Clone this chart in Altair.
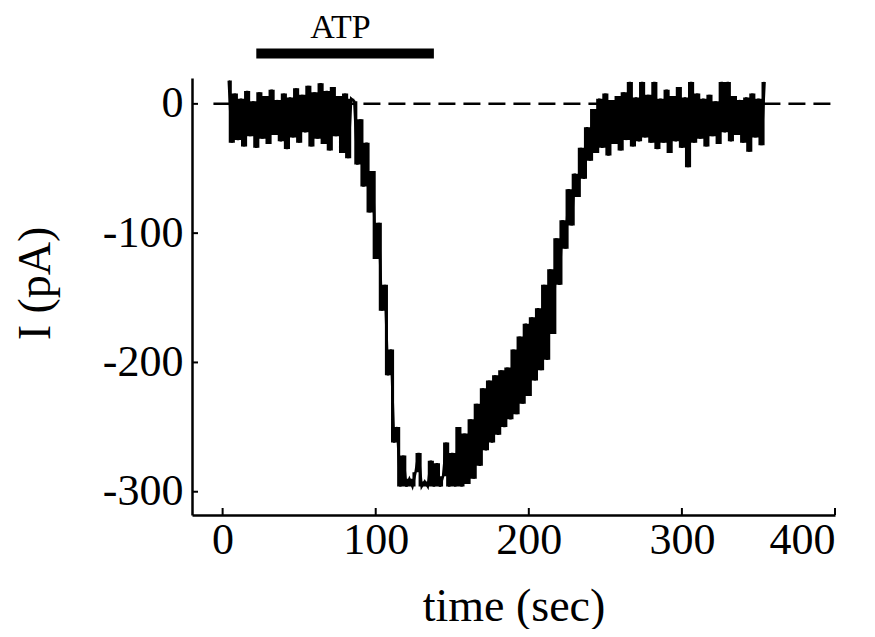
import altair as alt
import pandas as pd

# ---- data (2-s sampling, starting at t = 4 s) ----
T0 = 4
DT = 2
baseline = [18, -30, 8, -28, 4, -33, 10, -25, 2, -34, 9, -27, 6, -31, 11, -24, 3, -29, 8, -35,
            5, -26, 12, -30, 7, -22, 14, -33, 9, -27, 16, -31, 10, -36, 13, -25, 6, -38, 8, -42, 4]
descent = [2, -47, -12, -64, -30, -84, -52, -120, -92, -160, -140, -210, -190, -262, -250]
floor_ = [-296, -272, -296, -290, -296, -285, -270, -296, -292, -296, -276, -296, -278, -296,
          -288, -262, -296, -270, -296, -250, -296, -255, -294]
recovery = [-244, -290, -232, -280, -220, -268, -214, -262, -210, -256, -206, -250, -204, -244,
            -190, -240, -180, -232, -170, -226, -165, -214, -158, -206, -140, -198, -128, -178,
            -104, -140, -90, -112, -66, -94, -54, -72, -34, -58, -18, -44, -4, -38]
plateau = [4, -34, 8, -40, 3, -31, 6, -36, 9, -28, 17, -33, 5, -29, 17, -26, 7, -30, 17, -35,
           4, -30, 11, -38, 6, -29, 13, -34, 5, -49, 17, -30, 8, -27, 4, -33, 7, -25, 2, -31,
           17, -22, 17, -29, 6, -24, 3, -30, 5, -37, 8, -26, 4, -32, 17]
current = baseline + descent + floor_ + recovery + plateau
time = [T0 + DT * i for i in range(len(current))]

x_ticks = [0, 100, 200, 300, 400]
y_ticks = [0, -100, -200, -300]
atp_start, atp_end, atp_level = 22, 138, 39
atp_label_x, atp_label_y = 77, 51
zero_start, zero_end = -6, 400

X_DOMAIN = [-20, 400]
Y_DOMAIN = [-318, 20]
W, H = 643, 437

trace = pd.DataFrame({"t": time, "I": current})
trace["I_next"] = trace["I"].shift(-1).fillna(trace["I"])
xs = alt.Scale(domain=X_DOMAIN, nice=False, zero=False)
ys = alt.Scale(domain=Y_DOMAIN, nice=False, zero=False)

zero_line = alt.Chart(pd.DataFrame({"a": [zero_start], "b": [zero_end], "v": [0]})).mark_rule(
    color="black", strokeWidth=2.5, strokeDash=[17, 8]
).encode(
    x=alt.X("a:Q", scale=xs, axis=alt.Axis(
        title="time (sec)", values=x_ticks, labelExpr="'' + datum.value",
        labelPadding=3, titleY=105, titleBaseline="alphabetic")),
    x2="b:Q",
    y=alt.Y("v:Q", scale=ys, axis=alt.Axis(
        title="I (pA)", values=y_ticks, labelExpr="'' + datum.value",
        labelPadding=9, titleX=-157, titleY=205, titleBaseline="middle", titleAngle=270)),
)

# dense noise band: filled between each sample and the next one
band = alt.Chart(trace).mark_area(color="black", interpolate="step-after", opacity=1).encode(
    x=alt.X("t:Q", scale=xs), y=alt.Y("I:Q", scale=ys), y2="I_next:Q"
)
line = alt.Chart(trace).mark_line(color="black", strokeWidth=2.5, strokeJoin="miter").encode(
    x=alt.X("t:Q", scale=xs), y=alt.Y("I:Q", scale=ys)
)

xt = alt.Chart(pd.DataFrame({"t": x_ticks})).mark_rule(color="black", strokeWidth=2).encode(
    x=alt.X("t:Q", scale=xs), y=alt.value(H), y2=alt.value(H - 7)
)
yt = alt.Chart(pd.DataFrame({"v": y_ticks})).mark_rule(color="black", strokeWidth=2).encode(
    y=alt.Y("v:Q", scale=ys), x=alt.value(0), x2=alt.value(6)
)

atp_bar = alt.Chart(pd.DataFrame({"a": [atp_start], "b": [atp_end], "v": [atp_level]})).mark_rule(
    color="black", strokeWidth=10, clip=False
).encode(x=alt.X("a:Q", scale=xs), x2="b:Q", y=alt.Y("v:Q", scale=ys))

atp_text = alt.Chart(pd.DataFrame({"x": [atp_label_x], "y": [atp_label_y], "s": ["ATP"]})).mark_text(
    font="Liberation Serif", fontSize=34, color="black", baseline="alphabetic", align="center", clip=False
).encode(x=alt.X("x:Q", scale=xs), y=alt.Y("y:Q", scale=ys), text="s:N")

chart = alt.layer(zero_line, band, line, xt, yt, atp_bar, atp_text).properties(
    width=W, height=H,
    autosize=alt.AutoSizeParams(type="none"),
    padding={"left": 184, "top": 70, "right": 32, "bottom": 114},
).configure_view(stroke=None).configure_axis(
    grid=False, ticks=False, domainColor="black", domainWidth=2.5,
    labelFont="Liberation Serif", labelFontSize=44, labelColor="black",
    titleFont="Liberation Serif", titleFontSize=46, titleColor="black", titleFontWeight="normal",
)

chart.save("out.html", embed_options={"renderer": "svg", "actions": False})
